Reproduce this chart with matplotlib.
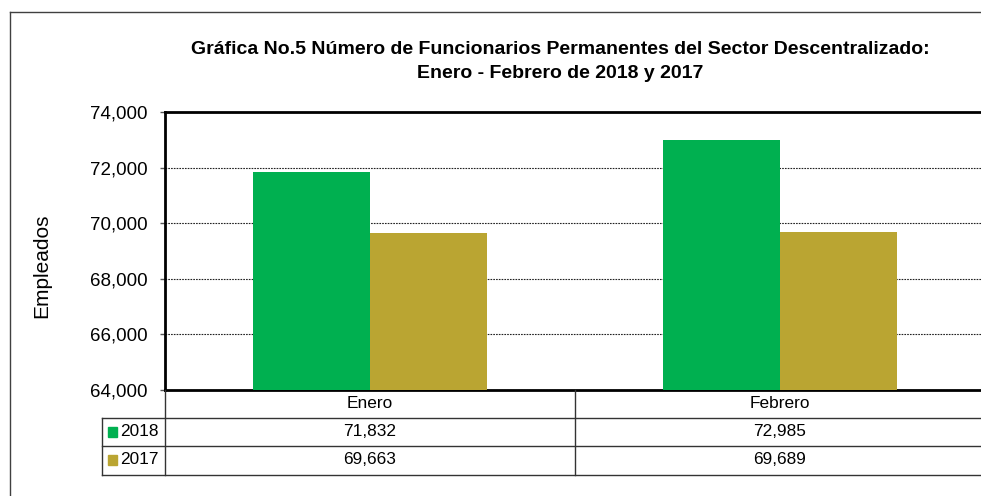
import numpy as np
import matplotlib
matplotlib.use("Agg")
import matplotlib.pyplot as plt
from matplotlib.lines import Line2D

plt.rcParams['font.family'] = ['Liberation Sans', 'DejaVu Sans']

months = ["Enero", "Febrero"]
series = ["2018", "2017"]
v2018 = [71832, 72985]
v2017 = [69663, 69689]
colors = ["#00B050", "#BAA532"]

W, H = 981, 496
fig = plt.figure(figsize=(W / 100, H / 100), dpi=100)

def fx(px):
    return px / W

def fy(py):
    return 1 - py / H

# outer chart frame (cut off on the right and bottom)
fig.add_artist(Line2D([fx(10), fx(10)], [fy(12), fy(500)], color="#404040", lw=1))
fig.add_artist(Line2D([fx(10), fx(990)], [fy(12), fy(12)], color="#404040", lw=1))

ax_l, ax_r, ax_t, ax_b = 165, 985, 112, 390
ax = fig.add_axes([fx(ax_l), fy(ax_b), fx(ax_r - ax_l), (ax_b - ax_t) / H])

x = np.arange(len(months)) + 0.5
bw = 117 / 410
ax.bar(x - bw / 2, v2018, bw, color=colors[0], zorder=3)
ax.bar(x + bw / 2, v2017, bw, color=colors[1], zorder=3)

ax.set_xlim(0, 2)
ax.set_ylim(64000, 74000)
ax.set_yticks(np.arange(64000, 74001, 2000))
ax.set_yticklabels([f"{t:,}" for t in range(64000, 74001, 2000)], fontsize=13.5)
ax.set_xticks([])
ax.yaxis.grid(True, linestyle=(0, (1.5, 1)), color="#222222", lw=0.8, zorder=0)
for s in ["top", "bottom", "left"]:
    ax.spines[s].set_linewidth(2)
    ax.spines[s].set_color("black")
ax.spines["right"].set_visible(False)
ax.tick_params(axis="y", direction="out", length=3.6, width=1, color="#555555", pad=9)

fig.text(fx(42), fy(266), "Empleados", rotation=90, ha="center", va="center", fontsize=15)

fig.text(fx(560), fy(50), "Gráfica No.5 Número de Funcionarios Permanentes del Sector Descentralizado:",
         ha="center", va="center", fontsize=14, fontweight="bold")
fig.text(fx(560), fy(74), "Enero - Febrero de 2018 y 2017",
         ha="center", va="center", fontsize=14, fontweight="bold")

# data table below the axes
lc = "#333333"
def hline(py, x0, x1):
    fig.add_artist(Line2D([fx(x0), fx(x1)], [fy(py), fy(py)], color=lc, lw=1))

def vline(px, y0, y1):
    fig.add_artist(Line2D([fx(px), fx(px)], [fy(y0), fy(y1)], color=lc, lw=1))

rows = [418, 446, 475]
for r in rows:
    hline(r, 102, 990)
vline(102, 418, 475)
vline(165, 390, 475)
vline(575, 390, 475)

centers = [370, 780]
fs = 12.4
for i, m in enumerate(months):
    fig.text(fx(centers[i]), fy(404), m, ha="center", va="center", fontsize=fs)
    fig.text(fx(centers[i]), fy(432), f"{v2018[i]:,}", ha="center", va="center", fontsize=fs)
    fig.text(fx(centers[i]), fy(460), f"{v2017[i]:,}", ha="center", va="center", fontsize=fs)

for j, (name, c) in enumerate(zip(series, colors)):
    yc = 432 + 28 * j
    fig.add_artist(plt.Rectangle((fx(108), fy(yc + 5)), fx(9), 10 / H, color=c))
    fig.text(fx(120), fy(yc), name, ha="left", va="center", fontsize=fs)

fig.savefig("out.png", dpi=100)
